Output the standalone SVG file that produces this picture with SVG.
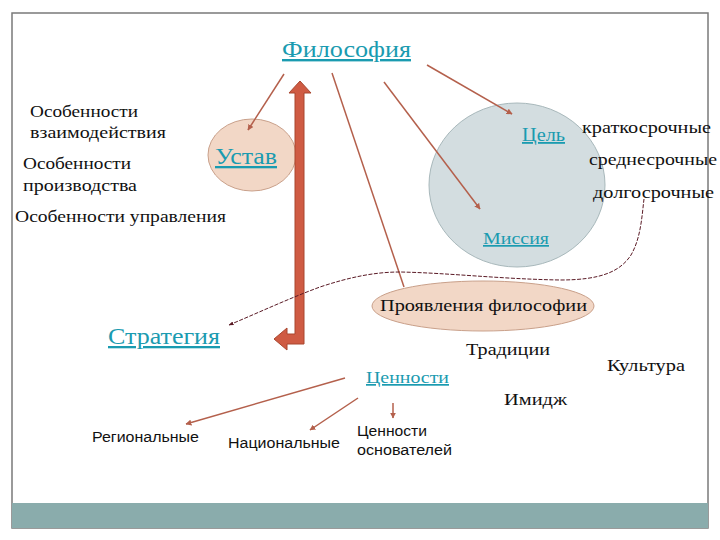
<svg xmlns="http://www.w3.org/2000/svg" width="720" height="540" viewBox="0 0 720 540">
<defs>
<style>
.s{font-family:"Liberation Serif","DejaVu Serif",serif;font-size:17px;fill:#111}
.t{font-family:"Liberation Serif","DejaVu Serif",serif;fill:#1a9bb0;text-decoration:underline}
.a{font-family:"Liberation Sans","DejaVu Sans",sans-serif;font-size:14px;fill:#111}
.ln{stroke:#b4604c;stroke-width:1.5;fill:none}
</style>
<marker id="ah" viewBox="0 0 10 10" refX="9" refY="5" markerWidth="4" markerHeight="4" orient="auto">
<path d="M0,0 L10,5 L0,10 Z" fill="#b4604c"/>
</marker>
<marker id="dh" viewBox="0 0 10 10" refX="9" refY="5" markerWidth="5" markerHeight="5" orient="auto-start-reverse">
<path d="M0,1 L10,5 L0,9 Z" fill="#5a1a25"/>
</marker>
</defs>
<rect x="0" y="0" width="720" height="540" fill="#fff"/>
<rect x="12" y="13" width="696" height="515" fill="#fff" stroke="#7a7a7a" stroke-width="1.5"/>
<rect x="12" y="503" width="696" height="25" fill="#8aacac"/>

<g id="ustav">
<ellipse cx="252" cy="155" rx="44" ry="36" fill="#f2d7c6" stroke="#c9a08a" stroke-width="1"/>
<text class="t" x="215" y="164" font-size="23" textLength="62" lengthAdjust="spacingAndGlyphs">Устав</text>
</g>
<g id="celmissiya">
<ellipse cx="517" cy="185" rx="88" ry="82" fill="#d3dde0" stroke="#a8b8bb" stroke-width="1"/>
<text class="t" x="522" y="141" font-size="18" textLength="43" lengthAdjust="spacingAndGlyphs">Цель</text>
<text class="t" x="483" y="244" font-size="17" textLength="66" lengthAdjust="spacingAndGlyphs">Миссия</text>
</g>
<g id="proyavleniya">
<ellipse cx="483" cy="306" rx="111" ry="25" fill="#f2d7c6" stroke="#c9a08a" stroke-width="1"/>
<text class="s" x="380" y="311" textLength="207" lengthAdjust="spacingAndGlyphs">Проявления философии</text>
</g>

<g id="connectors">
<line class="ln" x1="284" y1="74" x2="248" y2="130" marker-end="url(#ah)"/>
<line class="ln" x1="332" y1="73" x2="404" y2="287"/>
<line class="ln" x1="384" y1="82" x2="480" y2="209" marker-end="url(#ah)"/>
<line class="ln" x1="427" y1="65" x2="512" y2="114" marker-end="url(#ah)"/>
<line class="ln" x1="345" y1="378" x2="186" y2="424" marker-end="url(#ah)"/>
<line class="ln" x1="358" y1="398" x2="310" y2="430" marker-end="url(#ah)"/>
<line class="ln" x1="393" y1="403" x2="393" y2="418" marker-end="url(#ah)"/>
<path d="M300,81 L311,93 L304,93 L304,344 L287,344 L287,350 L274,339 L287,328 L287,334 L295,334 L295,93 L289,93 Z" fill="#cf5b43" stroke="#a9472f" stroke-width="1"/>
<path d="M644,199 C642,215 641,238 631,255 C620,272 600,280 560,280 C500,279 450,273 400,272 C375,272 350,277 320,287 C290,298 260,312 229,325" fill="none" stroke="#5a1a25" stroke-width="1" stroke-dasharray="4 1.5" marker-end="url(#dh)"/>
</g>

<g id="filosofiya">
<text class="t" x="282" y="57" font-size="24" textLength="129" lengthAdjust="spacingAndGlyphs">Философия</text>
</g>
<g id="osobennosti-vz">
<text class="s" x="30" y="117" textLength="108" lengthAdjust="spacingAndGlyphs">Особенности</text>
<text class="s" x="30" y="138" textLength="136" lengthAdjust="spacingAndGlyphs">взаимодействия</text>
</g>
<g id="osobennosti-pr">
<text class="s" x="23" y="169" textLength="108" lengthAdjust="spacingAndGlyphs">Особенности</text>
<text class="s" x="23" y="191" textLength="114" lengthAdjust="spacingAndGlyphs">производства</text>
</g>
<g id="osobennosti-upr">
<text class="s" x="15" y="222" textLength="211" lengthAdjust="spacingAndGlyphs">Особенности управления</text>
</g>
<g id="sroki">
<text class="s" x="582" y="133" textLength="129" lengthAdjust="spacingAndGlyphs">краткосрочные</text>
<text class="s" x="589" y="165" textLength="128" lengthAdjust="spacingAndGlyphs">среднесрочные</text>
<text class="s" x="593" y="198" textLength="121" lengthAdjust="spacingAndGlyphs">долгосрочные</text>
</g>
<g id="strategiya">
<text class="t" x="108" y="344" font-size="23" textLength="112" lengthAdjust="spacingAndGlyphs">Стратегия</text>
</g>
<g id="tradicii"><text class="s" x="466" y="355" textLength="84" lengthAdjust="spacingAndGlyphs">Традиции</text></g>
<g id="kultura"><text class="s" x="607" y="371" textLength="78" lengthAdjust="spacingAndGlyphs">Культура</text></g>
<g id="cennosti"><text class="t" x="366" y="383" font-size="17" textLength="83" lengthAdjust="spacingAndGlyphs">Ценности</text></g>
<g id="imidzh"><text class="s" x="504" y="405" textLength="63" lengthAdjust="spacingAndGlyphs">Имидж</text></g>
<g id="regionalnye"><text class="a" x="92" y="442" textLength="107" lengthAdjust="spacingAndGlyphs">Региональные</text></g>
<g id="nacionalnye"><text class="a" x="228" y="448" textLength="112" lengthAdjust="spacingAndGlyphs">Национальные</text></g>
<g id="cennosti-osn">
<text class="a" x="357" y="436" textLength="70" lengthAdjust="spacingAndGlyphs">Ценности</text>
<text class="a" x="357" y="455" textLength="95" lengthAdjust="spacingAndGlyphs">основателей</text>
</g>
</svg>
